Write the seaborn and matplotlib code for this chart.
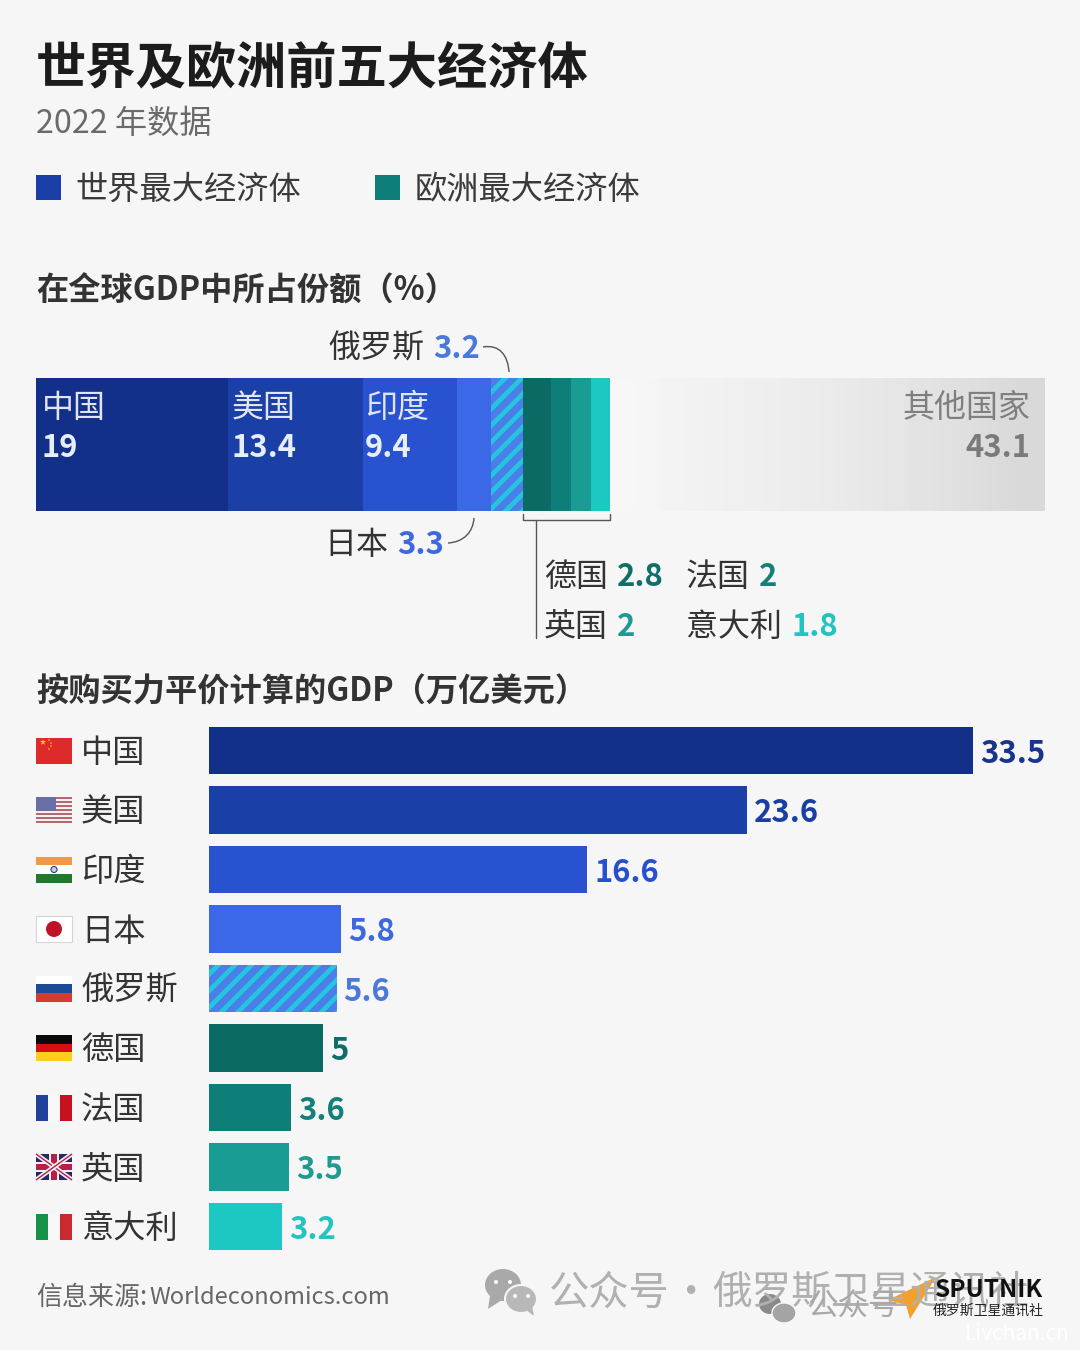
import numpy as np
import pandas as pd
import matplotlib
matplotlib.use('Agg')
import matplotlib.pyplot as plt
import seaborn as sns
from matplotlib.patches import Rectangle, Circle, Ellipse, Polygon, PathPatch
from matplotlib.path import Path

# data
countries = ['中国', '美国', '印度', '日本', '俄罗斯', '德国', '法国', '英国', '意大利']
ppp_values = [33.5, 23.6, 16.6, 5.8, 5.6, 5, 3.6, 3.5, 3.2]
share_values = [19, 13.4, 9.4, 3.3, 3.2, 2.8, 2, 2, 1.8]
other_label = '其他国家'
other_share = 43.1

bar_colors = ['#12308a', '#1a3fa6', '#2852d0', '#3a68e6', '#4a7ee8', '#0b6a64', '#0e7f78', '#189c94', '#1bc8c2']
value_colors = ['#17358c', '#1a3fa3', '#2750cf', '#3d69e0', '#4b78dc', '#0f6e68', '#138079', '#1f9a92', '#22c4c0']
stripe_color = '#25c5e0'
bg = '#f6f6f6'
W, H = 1080, 1350

sns.set_theme(style='white')
plt.rcParams['font.family'] = ['Noto Sans CJK SC', 'DejaVu Sans']
plt.rcParams['hatch.linewidth'] = 3.4

fig = plt.figure(figsize=(W / 100, H / 100), dpi=100, facecolor=bg)


def px_axes(left, top, right, bottom, **kw):
    ax = fig.add_axes([left / W, 1 - bottom / H, (right - left) / W, (bottom - top) / H], **kw)
    ax.set_facecolor('none')
    return ax


# stacked share bar
ax_top = px_axes(36, 378, 1044, 511)
left = 0
for name, val, col in zip(countries, share_values, bar_colors):
    sns.barplot(x=[val], y=['share'], left=left, color=col, width=1, saturation=1, linewidth=0, ax=ax_top)
    left += val
sns.barplot(x=[other_share], y=['share'], left=left, color='#ececec', width=1, saturation=1, linewidth=0, ax=ax_top)
ax_top.patches[-1].set_alpha(0)
gradient = np.array([[0.965, 0.95, 0.94, 0.93, 0.92, 0.905, 0.89, 0.87, 0.85]])
ax_top.imshow(gradient, cmap='gray', vmin=0, vmax=1, aspect='auto', interpolation='bilinear',
              extent=(left, left + other_share, 0.5, -0.5), zorder=1)
rus_top = ax_top.patches[4]
rus_top.set_hatch('//')
rus_top.set_edgecolor(stripe_color)
rus_top.set_linewidth(0)
ax_top.set_xlim(0, sum(share_values) + other_share)
ax_top.set_ylim(0.5, -0.5)
ax_top.axis('off')

# ppp bars
ppp_df = pd.DataFrame({'country': countries, 'ppp': ppp_values})
ax_bar = px_axes(209, 720.75, 1044, 1256.25)
sns.barplot(data=ppp_df, x='ppp', y='country', hue='country', palette=bar_colors, dodge=False,
            legend=False, width=0.79, saturation=1, linewidth=0, ax=ax_bar)
rus_bar = ax_bar.patches[4]
rus_bar.set_hatch('//')
rus_bar.set_edgecolor(stripe_color)
rus_bar.set_linewidth(0)
ax_bar.set_xlim(0, 835 / 22.8)
ax_bar.set_ylim(8.5, -0.5)
ax_bar.axis('off')
for i, val in enumerate(ppp_values):
    ax_bar.annotate(f'{val:g}', (val, i), xytext=(5, -2.5), textcoords='offset points', va='center', ha='left',
                    fontsize=22.3, fontweight='bold', color=value_colors[i])

# overlay in pixel coordinates for text and decoration
ov = px_axes(0, 0, W, H, zorder=5)
ov.set_xlim(0, W)
ov.set_ylim(H, 0)
ov.axis('off')


def txt(x, y, s, size=23, color='#333333', weight='normal', ha='left', **kw):
    return ov.text(x, y + 3, s, fontsize=size, color=color, fontweight=weight, ha=ha, va='center', **kw)


txt(36, 67, '世界及欧洲前五大经济体', 36.2, '#1c1c1c', 'black')
txt(36, 121, '2022 年数据', 23.2, '#6a6a6a')
ov.add_patch(Rectangle((36, 175), 25, 25, color='#1a3fa6', lw=0))
txt(75.5, 187, '世界最大经济体', 23.2, '#3a3a3a')
ov.add_patch(Rectangle((375, 175), 25, 25, color='#0e7f78', lw=0))
txt(414.5, 187, '欧洲最大经济体', 23.2, '#3a3a3a')
txt(36, 288, '在全球GDP中所占份额（%）', 23.2, '#333333', 'bold')
txt(36, 689, '按购买力平价计算的GDP（万亿美元）', 23.2, '#333333', 'bold')

# labels inside stacked bar
label_x = [42, 232, 365]
for x, name, val in zip(label_x, countries[:3], share_values[:3]):
    txt(x, 405, name, 23, '#dfe6f5')
    txt(x, 445, f'{val:g}', 22.3, '#e8eef8', 'bold')
txt(1031, 405, other_label, 23, '#7f7f7f', ha='right')
txt(1030, 445, f'{other_share:g}', 22.3, '#7a7a7a', 'bold', ha='right')

# callouts
txt(328, 346, countries[4], 23)
txt(433, 346, f'{share_values[4]:g}', 22.3, value_colors[4], 'bold')
txt(324, 542, countries[3], 23)
txt(397, 542, f'{share_values[3]:g}', 22.3, value_colors[3], 'bold')
txt(544, 574, countries[5], 23)
txt(617, 574, f'{share_values[5]:g}', 22.3, value_colors[5], 'bold')
txt(686, 574, countries[6], 23)
txt(759, 574, f'{share_values[6]:g}', 22.3, value_colors[6], 'bold')
txt(544, 624, countries[7], 23)
txt(617, 624, f'{share_values[7]:g}', 22.3, value_colors[7], 'bold')
txt(686, 624, countries[8], 23)
txt(792, 624, f'{share_values[8]:g}', 22.3, value_colors[8], 'bold')

line_col = '#555555'
ov.add_patch(PathPatch(Path([(483, 347), (500, 344), (508, 356), (509, 372)],
                            [Path.MOVETO, Path.CURVE4, Path.CURVE4, Path.CURVE4]),
                       fc='none', ec=line_col, lw=1))
ov.add_patch(PathPatch(Path([(448, 543), (464, 542), (473, 532), (474, 518)],
                            [Path.MOVETO, Path.CURVE4, Path.CURVE4, Path.CURVE4]),
                       fc='none', ec=line_col, lw=1))
ov.plot([523, 523, 610, 610], [514, 520, 520, 514], color=line_col, lw=1)
ov.plot([536, 536], [520, 638], color=line_col, lw=1)

# flags and row names
row_y = [750.5 + 59.5 * i for i in range(9)]
fx, fw, fh = 36, 36, 26


def flag_bands(y, cols, vertical=False):
    top = y - fh / 2
    for i, c in enumerate(cols):
        if vertical:
            ov.add_patch(Rectangle((fx + i * fw / len(cols), top), fw / len(cols), fh, color=c, lw=0))
        else:
            ov.add_patch(Rectangle((fx, top + i * fh / len(cols)), fw, fh / len(cols), color=c, lw=0))


flag_bands(row_y[0], ['#de2a2a'])
ov.add_patch(Polygon([(43, 739), (45, 745), (40, 741), (46, 741), (41, 745)], color='#f5c518', lw=0))
for dx, dy in [(49, 740), (51, 743), (51, 746), (49, 749)]:
    ov.add_patch(Circle((dx, dy), 0.8, color='#f5c518', lw=0))

flag_bands(row_y[1], ['#b5676f', '#f3f0f0'] * 6 + ['#b5676f'])
ov.add_patch(Rectangle((fx, row_y[1] - fh / 2), 20, 14, color='#6a6ea6', lw=0))

flag_bands(row_y[2], ['#f0994a', '#ffffff', '#1f7a2d'])
ov.add_patch(Circle((54, row_y[2]), 3, fc='#c9cde0', ec='#33407f', lw=0.8))

flag_bands(row_y[3], ['#ffffff'])
ov.add_patch(Rectangle((fx, row_y[3] - fh / 2), fw, fh, fc='none', ec='#d5d5d5', lw=0.8))
ov.add_patch(Circle((54, row_y[3]), 8, color='#bf1428', lw=0))

flag_bands(row_y[4], ['#ffffff', '#1c4b96', '#d33a36'])
flag_bands(row_y[5], ['#0a0a0a', '#d60f14', '#fdcf1a'])
flag_bands(row_y[6], ['#21409a', '#f8f8f8', '#c8101e'], vertical=True)

uy = row_y[7]
flag_bands(uy, ['#232a66'])
for x0, x1 in [(fx, fx + fw), (fx + fw, fx)]:
    ov.plot([x0, x1], [uy - fh / 2, uy + fh / 2], color='#f4f0f2', lw=3.4, solid_capstyle='butt')
    ov.plot([x0, x1], [uy - fh / 2, uy + fh / 2], color='#b3204a', lw=1, solid_capstyle='butt')
ov.add_patch(Rectangle((fx, uy - 5), fw, 10, color='#f4f0f2', lw=0))
ov.add_patch(Rectangle((fx + 13, uy - fh / 2), 10, fh, color='#f4f0f2', lw=0))
ov.add_patch(Rectangle((fx, uy - 3), fw, 6, color='#b3204a', lw=0))
ov.add_patch(Rectangle((fx + 15, uy - fh / 2), 6, fh, color='#b3204a', lw=0))

flag_bands(row_y[8], ['#16914a', '#f8f8f8', '#c92a2e'], vertical=True)

for name, y in zip(countries, row_y):
    txt(81, y - 0.5, name, 23.2)

# footer
txt(36, 1294, '信息来源:', 18.7, '#666666')
txt(149, 1294, 'Worldeconomics.com', 17.05, '#666666')

wm = '#a9a9a9'
ov.add_patch(Ellipse((503, 1285), 36, 32, color=wm, lw=0))
ov.add_patch(Polygon([(490, 1296), (488, 1309), (502, 1300)], color=wm, lw=0))
ov.add_patch(Ellipse((521, 1299), 32, 28, color='#b8b8b8', ec=bg, lw=1.5))
ov.add_patch(Polygon([(526, 1310), (534, 1316), (532, 1306)], color='#b8b8b8', lw=0))
for ex, ey, ec in [(496, 1282, 'white'), (510, 1282, 'white'), (515, 1296, 'white'), (528, 1296, 'white')]:
    ov.add_patch(Circle((ex, ey), 2, color=ec, lw=0))
txt(549, 1290, '公众号', 29, '#b0b0b0')
txt(670, 1290, '·', 29, '#b0b0b0')
txt(712, 1290, '俄罗斯卫星通讯社', 28.5, '#b0b0b0')

ov.add_patch(Ellipse((770, 1304), 22, 20, color='#8a8a8a', lw=0))
ov.add_patch(Ellipse((784, 1313), 24, 20, color='#a4a4a4', ec=bg, lw=1))
txt(807, 1304, '公众号', 22, '#a8a8a8')

ov.add_patch(Polygon([(936, 1277), (888, 1300), (906, 1305), (910, 1319)], color='#f5a02c', lw=0))
txt(935, 1287, 'SPUTNIK', 17.6, '#111111', 'bold')
txt(933, 1308, '俄罗斯卫星通讯社', 10, '#222222')
txt(965, 1331, 'Livchan.cn', 15, '#ffffff')

fig.savefig('out.png', dpi=100, facecolor=bg)
